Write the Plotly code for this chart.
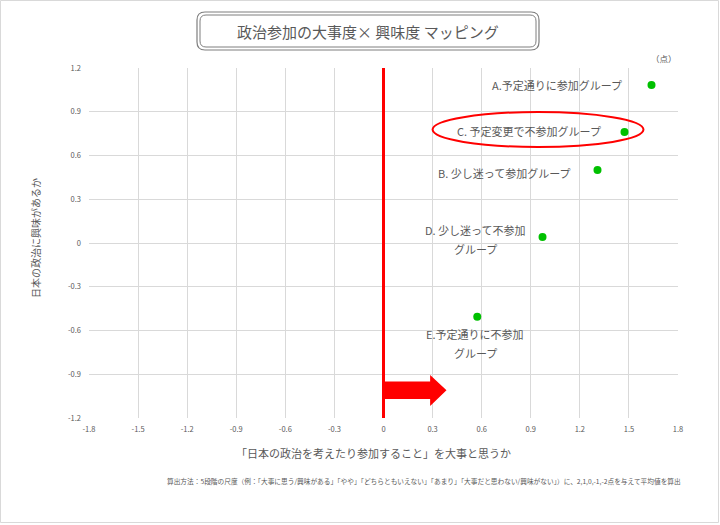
import plotly.graph_objects as go

# data
groups = ["A.予定通りに参加グループ", "C. 予定変更で不参加グループ", "B. 少し迷って参加グループ",
          "D. 少し迷って不参加<br>グループ", "E.予定通りに不参加<br>グループ"]
importance = [1.638, 1.473, 1.308, 0.972, 0.573]
interest = [1.084, 0.761, 0.50, 0.041, -0.505]
ticks = [-1.8, -1.5, -1.2, -0.9, -0.6, -0.3, 0, 0.3, 0.6, 0.9, 1.2, 1.5, 1.8]
yticks = [-1.2, -0.9, -0.6, -0.3, 0, 0.3, 0.6, 0.9, 1.2]

FONT = "Noto Sans CJK JP"
GRAY = "#595959"

W, H = 720, 525
L, R, T, B = 89, 42, 68, 107
pw, ph = W - L - R, H - T - B


def px(x):  # pixel -> paper
    return (x - L) / pw


def py(y):
    return (H - B - y) / ph


def rounded(x0, y0, x1, y1, r):
    ax0, ax1, ay0, ay1 = px(x0), px(x1), py(y1), py(y0)
    rx, ry = r / pw, r / ph
    return (f"M {ax0+rx},{ay0} L {ax1-rx},{ay0} Q {ax1},{ay0} {ax1},{ay0+ry} "
            f"L {ax1},{ay1-ry} Q {ax1},{ay1} {ax1-rx},{ay1} L {ax0+rx},{ay1} "
            f"Q {ax0},{ay1} {ax0},{ay1-ry} L {ax0},{ay0+ry} Q {ax0},{ay0} {ax0+rx},{ay0} Z")


fig = go.Figure()
fig.add_trace(go.Scatter(x=importance, y=interest, mode="markers",
                         marker=dict(color="#00c000", size=8), hoverinfo="skip"))

# labels next to the points (offsets in data units)
label_pos = [(-0.171, 0.0, "right"), (-0.134, 0.007, "right"), (-0.147, -0.02, "right"),
             (-0.41, -0.016, "center"), (-0.011, -0.184, "center")]
for g, x, y, (dx, dy, al) in zip(groups, importance, interest, label_pos):
    lines = g.split("<br>")
    for i, line in enumerate(lines):
        shift = (len(lines) - 1) * 9.5 - i * 19
        fig.add_annotation(x=x + dx, y=y + dy, text=line, showarrow=False,
                           xanchor=al, yanchor="middle", yshift=shift,
                           font=dict(family=FONT, size=11, color=GRAY))

fig.update_layout(
    width=W, height=H, margin=dict(l=L, r=R, t=T, b=B),
    paper_bgcolor="white", plot_bgcolor="white", showlegend=False,
    font=dict(family=FONT, color=GRAY),
    xaxis=dict(range=[-1.8, 1.8], tickvals=ticks, ticktext=[f"{t:g}" for t in ticks],
               showgrid=True, gridcolor="#d9d9d9", gridwidth=1, zeroline=False,
               tickfont=dict(size=7.5, color=GRAY), ticks="", fixedrange=True,
               ticklabelstandoff=5),
    yaxis=dict(range=[-1.2, 1.2], tickvals=yticks, ticktext=[f"{t:g}" for t in yticks],
               showgrid=True, gridcolor="#d9d9d9", gridwidth=1, zeroline=False,
               tickfont=dict(size=7.5, color=GRAY), ticks="", fixedrange=True,
               ticklabelstandoff=7),
)

# axis titles
fig.add_annotation(xref="paper", yref="paper", x=px(373), y=py(453), showarrow=False,
                   xanchor="center", yanchor="middle",
                   text="「日本の政治を考えたり参加すること」を大事と思うか",
                   font=dict(family=FONT, size=11, color=GRAY))
fig.add_annotation(xref="paper", yref="paper", x=px(35), y=py(238), showarrow=False,
                   xanchor="center", yanchor="middle", textangle=-90,
                   text="日本の政治に興味があるか",
                   font=dict(family=FONT, size=10, color=GRAY))

# red vertical line at x=0
fig.add_shape(type="line", x0=0, x1=0, y0=-1.2, y1=1.2, xref="x", yref="y",
              line=dict(color="#ff0000", width=3))
# red arrow pointing right
fig.add_shape(type="path", xref="x", yref="y", fillcolor="#ff0000", line=dict(width=0),
              path="M 0,-0.95 L 0.285,-0.95 L 0.285,-0.905 L 0.385,-1.01 L 0.285,-1.118 "
                   "L 0.285,-1.07 L 0,-1.07 Z")
# ellipse around group C
fig.add_shape(type="circle", xref="x", yref="y", x0=0.30, x1=1.589, y0=0.658, y1=0.898,
              line=dict(color="#ff0000", width=2))

# title box (double rounded border)
fig.add_shape(type="path", xref="paper", yref="paper", path=rounded(197, 12, 539, 50, 8),
              line=dict(color="#7f7f7f", width=1.2))
fig.add_shape(type="path", xref="paper", yref="paper", path=rounded(200, 15, 536, 47, 6),
              line=dict(color="#7f7f7f", width=1))
fig.add_annotation(xref="paper", yref="paper", x=px(368), y=py(31), showarrow=False,
                   xanchor="center", yanchor="middle",
                   text="政治参加の大事度× 興味度 マッピング",
                   font=dict(family=FONT, size=15, color=GRAY))
# outer frame
fig.add_shape(type="rect", xref="paper", yref="paper", x0=px(0.5), x1=px(718.5),
              y0=py(522.5), y1=py(0.5), line=dict(color="#d9d9d9", width=1))

fig.add_annotation(xref="paper", yref="paper", x=px(679), y=py(58), showarrow=False,
                   xanchor="right", yanchor="middle", text="（点）",
                   font=dict(family=FONT, size=8.5, color=GRAY))
fig.add_annotation(xref="paper", yref="paper", x=px(683), y=py(481), showarrow=False,
                   xanchor="right", yanchor="middle",
                   text="算出方法：5段階の尺度（例：「大事に思う/興味がある」「やや」「どちらともいえない」「あまり」「大事だと思わない/興味がない」）に、2,1,0,-1,-2点を与えて平均値を算出",
                   font=dict(family=FONT, size=6.7, color=GRAY))

fig.write_html("out.html", config={"displayModeBar": False},
               post_script="document.body.style.margin='0px';")
